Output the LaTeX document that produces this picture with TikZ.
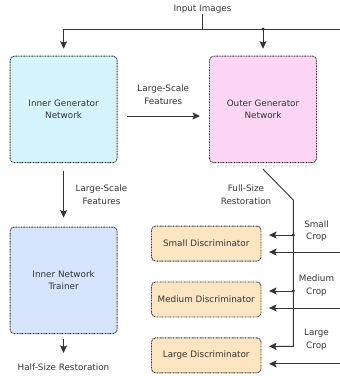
\documentclass[tikz,border=0pt]{standalone}
\usepackage{fontspec}
\setmainfont{DejaVu Sans}
\usetikzlibrary{arrows.meta,positioning}

\definecolor{inkgrey}{HTML}{333333}
\definecolor{genblue}{HTML}{D5F4FD}
\definecolor{genpink}{HTML}{FDD5F5}
\definecolor{trainblue}{HTML}{D6E5FD}
\definecolor{discorange}{HTML}{FCE5C1}

\begin{document}
\begin{tikzpicture}[
        x=1pt, y=1pt,
        every node/.style={text=inkgrey, font=\fontsize{8.8}{12.6}\selectfont},
        generator/.style={rectangle, draw=inkgrey, dash pattern=on 0.9pt off 0.7pt, line width=0.9pt, rounded corners=4pt, minimum width=107pt, minimum height=106.5pt, align=center},
        disc/.style={rectangle, draw=inkgrey, dash pattern=on 0.9pt off 0.7pt, line width=0.9pt, rounded corners=4pt, fill=discorange, minimum width=109.5pt, minimum height=35pt, align=center},
        lbl/.style={align=center, inner sep=1pt},
        line/.style={draw=inkgrey, line width=0.9pt},
        arrow/.style={line, -{Stealth[length=7.5pt, width=7pt, inset=1.5pt]}}
    ]
    \useasboundingbox (0,0) rectangle (340,-376);
    % Generators
    \node[generator, fill=genblue] (innergen) at (63.6,-109.4) {Inner Generator\\Network};
    \node[generator, fill=genpink, right=91.5pt of innergen] (outergen) {Outer Generator\\Network};
    % Trainer
    \node[generator, fill=trainblue, below=63.5pt of innergen] (trainer) {Inner Network\\Trainer};
    % Discriminators
    \node[disc, right=33.5pt of trainer.north east, anchor=north west, yshift=1pt] (smalldisc) {Small Discriminator};
    \node[disc, below=20pt of smalldisc] (meddisc) {Medium Discriminator};
    \node[disc, below=20pt of meddisc] (largedisc) {Large Discriminator};
    % Labels
    \node[lbl] (input) at (202.5,-9) {Input Images};
    \node[lbl] (feat1) at (163.3,-94.7) {Large-Scale\\Features};
    \node[lbl] (feat2) at (101.5,-194.5) {Large-Scale\\Features};
    \node[lbl] (fullsize) at (246,-194.5) {Full-Size\\Restoration};
    \node[lbl] (halfsize) at (63.5,-367) {Half-Size Restoration};
    \node[lbl] (smallcrop) at (316.5,-231) {Small\\Crop};
    \node[lbl] (medcrop) at (316.5,-285.3) {Medium\\Crop};
    \node[lbl] (largecrop) at (316.5,-340) {Large\\Crop};
    % Input bus
    \coordinate (bus) at (input |- 0,-29);
    \coordinate (busend) at (340,-29);
    \coordinate (split) at (outergen.north |- bus);
    \draw[line] (input) -- (bus);
    \draw[line] (bus) -- (busend);
    \draw[arrow, shorten >=7pt] (bus) -| (innergen);
    \fill[inkgrey] (split) circle (1.7pt);
    \draw[arrow, shorten >=7pt] (split) -- (outergen);
    % Arrows
    \draw[arrow, shorten <=9.4pt, shorten >=9pt] ([yshift=-6.6pt]innergen.east) -- ([yshift=-6.6pt]outergen.west);
    \draw[arrow, shorten <=7.5pt, shorten >=9pt] (innergen) -- (trainer);
    \draw[arrow, shorten <=5pt, shorten >=9.5pt] (trainer) -- (halfsize);
    % Restoration branch
    \coordinate[yshift=-6pt] (tap) at (outergen.south);
    \coordinate (bend) at (293.3,-200);
    \draw[arrow, shorten >=7.6pt] (tap) -- (bend) |- ([yshift=9pt]largedisc.east);
    \foreach \disc in {smalldisc, meddisc} {
        \coordinate[yshift=8.5pt] (tap-\disc) at (bend |- \disc.east);
        \fill[inkgrey] (tap-\disc) circle (1.7pt);
        \draw[arrow, shorten >=7.6pt] (tap-\disc) -- (\disc.east |- tap-\disc);
    }
    % Real crops
    \foreach \disc in {smalldisc, meddisc, largedisc} {
        \coordinate[yshift=-8.5pt] (crop-\disc) at (busend |- \disc.east);
        \draw[arrow, shorten >=7.6pt] (crop-\disc) -- (\disc.east |- crop-\disc);
    }
\end{tikzpicture}
\end{document}
